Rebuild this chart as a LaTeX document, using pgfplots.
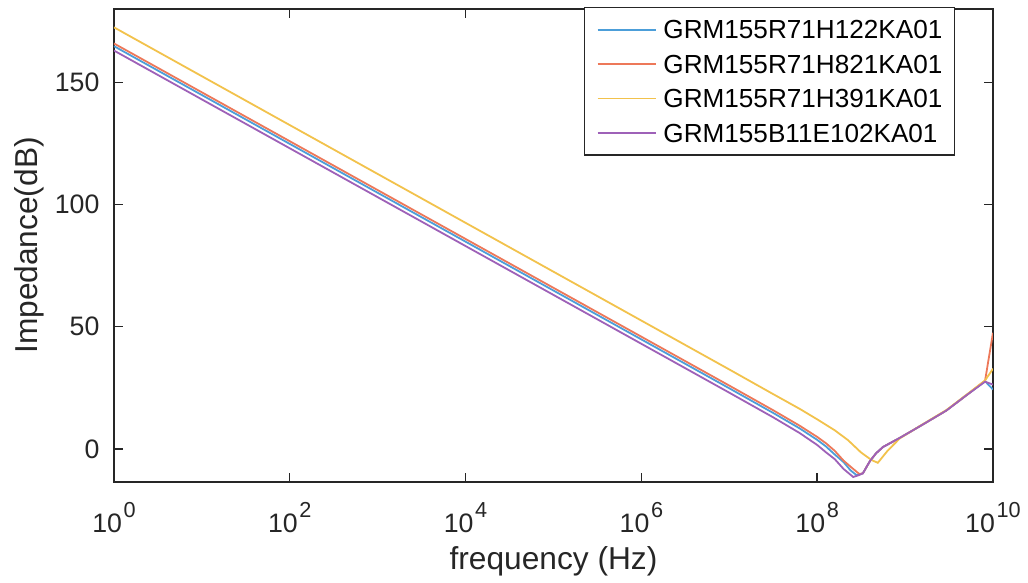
\documentclass[border=0pt]{standalone}
\usepackage{fontspec}
\setmainfont{Liberation Sans}
\usepackage{pgfplots}
\pgfplotsset{compat=1.18}

\definecolor{mblue}{rgb}{0.30,0.62,0.85}
\definecolor{mred}{rgb}{0.93,0.47,0.35}
\definecolor{myellow}{rgb}{0.95,0.76,0.30}
\definecolor{mpurple}{rgb}{0.62,0.38,0.72}
\definecolor{axgray}{rgb}{0.15,0.15,0.15}

\newcommand{\ex}[1]{10\kern0.6pt\raisebox{5.5pt}{\fontsize{7.8}{8}\selectfont #1}}

\begin{document}
\begin{tikzpicture}
\begin{axis}[
  scale only axis, width=316.2pt, height=170.1pt,
  xmode=log, xmin=1, xmax=1e10, ymin=-13.5, ymax=180,
  xtick={1,1e2,1e4,1e6,1e8,1e10},
  xticklabels={\ex{0},\ex{2},\ex{4},\ex{6},\ex{8},\ex{10}},
  minor xtick={},
  ytick={0,50,100,150},
  tick align=inside, major tick length=3.2pt,
  axis line style={axgray, line width=0.5pt},
  every tick/.style={axgray, line width=0.5pt},
  tick label style={font=\fontsize{9.6}{11}\selectfont, text=axgray},
  /pgf/number format/assume math mode=true,
  xticklabel style={anchor=base, yshift=-18.2pt},
  yticklabel style={xshift=-1.7pt},
  xlabel={frequency (Hz)}, ylabel={Impedance(dB)},
  label style={font=\fontsize{11.4}{13}\selectfont, text=axgray},
  xlabel style={at={(axis description cs:0.5,-0.169)}, anchor=center},
  ylabel style={at={(axis description cs:-0.0968,0.5)}, anchor=center},
  legend cell align=left,
  legend image code/.code={\draw[#1] (0pt,0pt) -- (20.9pt,0pt); \path (23.4pt,0pt);},
  legend style={at={(0.9568,1.0047)}, anchor=north east, draw=axgray, line width=0.5pt,
    fill=white, inner xsep=4.3pt, inner ysep=1.8pt,
    font=\fontsize{9.4}{11}\selectfont,
    nodes={inner sep=0pt, text height=9.53pt, text depth=2.84pt}},
  every axis plot/.append style={line width=0.65pt},
]
% GRM155R71H122KA01
\addplot[mblue] coordinates {
  (1,164.8) (1e7,24.8) (3.162e7,14.7) (6.310e7,8.4) (1e8,3.7) (1.259e8,1.0)
  (1.585e8,-2.3) (1.995e8,-5.4) (2.399e8,-8.8) (2.818e8,-10.8) (3.311e8,-10.0)
  (3.981e8,-5.0) (4.677e8,-1.8) (5.623e8,0.8) (8.710e8,4.5) (1.479e9,9.3)
  (2.951e9,15.7) (5.012e9,22.0) (8.128e9,27.7) (1e10,24.3)};
% GRM155R71H821KA01
\addplot[mred] coordinates {
  (1,165.9) (1e7,25.9) (3.162e7,15.8) (6.310e7,9.5) (1e8,4.9) (1.259e8,2.3)
  (1.585e8,-0.8) (1.995e8,-4.8) (2.512e8,-7.9) (3.020e8,-10.3) (3.311e8,-10.0)
  (3.981e8,-5.0) (4.677e8,-1.8) (5.623e8,0.8) (8.710e8,4.5) (1.479e9,9.3)
  (2.951e9,15.7) (5.012e9,22.0) (8.128e9,27.9) (1e10,47.5)};
% GRM155R71H391KA01
\addplot[myellow] coordinates {
  (1,172.5) (1e7,32.5) (3.162e7,22.4) (6.310e7,16.4) (1e8,12.1) (1.585e8,7.6)
  (2.239e8,3.6) (3.162e8,-1.5) (4.169e8,-4.6) (4.898e8,-5.7) (6.310e8,-0.8)
  (8.710e8,4.3) (1.479e9,9.4) (2.951e9,15.9) (5.012e9,22.2) (8.128e9,28.0)
  (1e10,32.8)};
% GRM155B11E102KA01
\addplot[mpurple] coordinates {
  (1,163.0) (1e7,23.0) (3.162e7,12.9) (6.310e7,6.5) (1e8,1.6) (1.259e8,-1.4)
  (1.585e8,-4.2) (1.995e8,-8.2) (2.570e8,-11.5) (2.951e8,-10.8) (3.311e8,-10.0)
  (3.981e8,-5.0) (4.677e8,-1.8) (5.623e8,0.8) (8.710e8,4.5) (1.479e9,9.3)
  (2.951e9,15.7) (5.012e9,22.0) (8.128e9,27.5) (1e10,26.3)};
\legend{GRM155R71H122KA01,GRM155R71H821KA01,GRM155R71H391KA01,GRM155B11E102KA01}
\coordinate (bl) at (rel axis cs:0,0);
\coordinate (tr) at (rel axis cs:1,1);
\end{axis}
\pgfresetboundingbox
\path ([shift={(-41.0pt,-36.3pt)}]bl) rectangle ([shift={(12.6pt,3.24pt)}]tr);
\end{tikzpicture}
\end{document}
